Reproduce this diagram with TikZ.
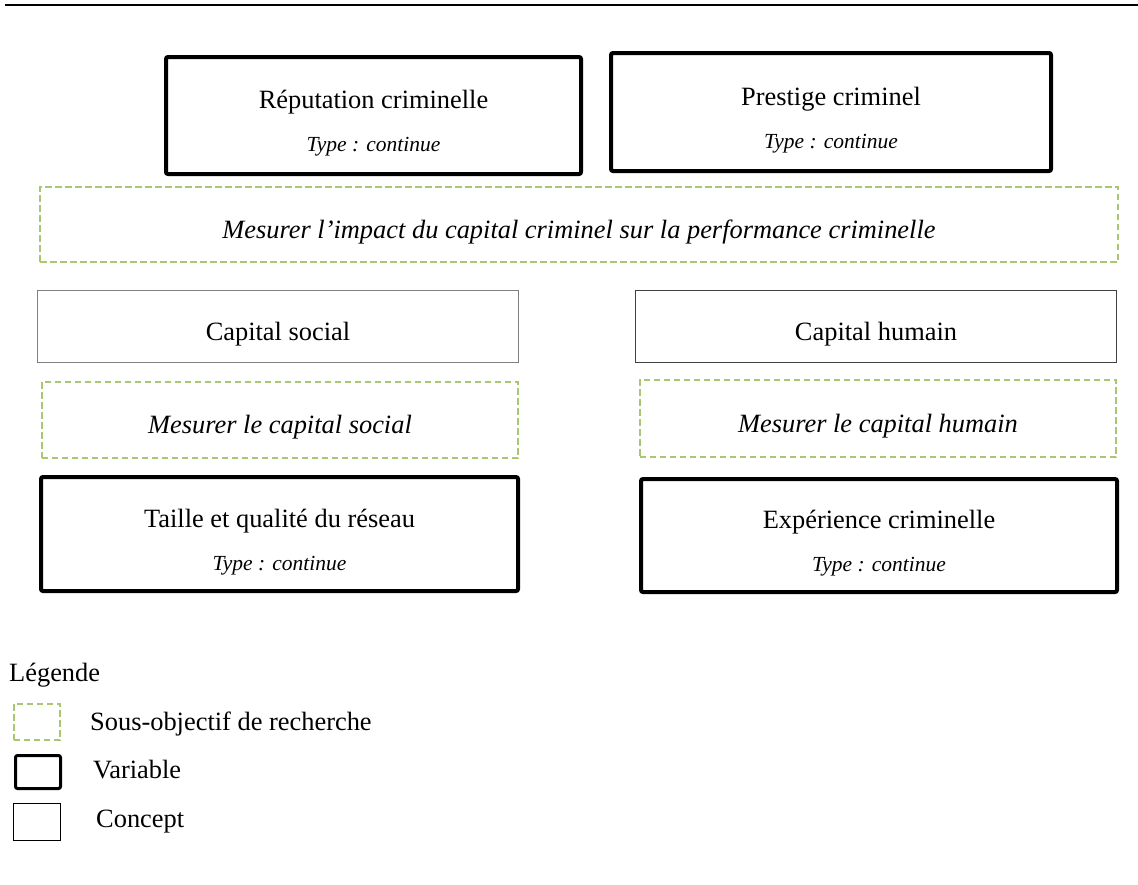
\documentclass[tikz,border=0pt]{standalone}
\usepackage{fontspec}
\setmainfont{Liberation Serif}
\usepackage{tikz}
\usetikzlibrary{positioning}
\definecolor{objgreen}{RGB}{170,198,116}
\definecolor{socgray}{RGB}{128,128,128}
\definecolor{humgray}{RGB}{64,64,64}
\newcommand{\boxfont}{\fontsize{26.4}{30}\selectfont}
\newcommand{\typefont}{\fontsize{21.5}{26}\selectfont\itshape}
\tikzstyle{varbox} = [rectangle, rounded corners=2pt, line width=4pt, draw=black, inner sep=0pt, outer sep=0pt, text height=0pt, text depth=14pt, font=\boxfont]
\tikzstyle{conceptbox} = [rectangle, line width=1.3pt, inner sep=0pt, outer sep=0pt, text height=27pt, text depth=0pt, font=\boxfont]
\tikzstyle{objbox} = [rectangle, draw=objgreen, line width=1.8pt, dash pattern=on 6.5pt off 3.5pt, inner sep=0pt, outer sep=0pt, text height=27pt, text depth=0pt, font=\boxfont\itshape]
\tikzstyle{typeline} = [anchor=base, inner sep=0pt, font=\typefont]
\tikzstyle{legendtext} = [anchor=base west, inner sep=0pt, font=\boxfont]

\begin{document}
\begin{tikzpicture}[x=1pt, y=-1pt]
	\useasboundingbox (0,0) rectangle (1138,884);
	\coordinate (ruleL) at (5,5);
	\coordinate (ruleR) at (1138,5);
	\draw [line width=2pt] (ruleL) -- (ruleR);

	% performance criminelle
	\node (rep) [varbox, minimum width=415pt, minimum height=117pt] at (373.5,115.5) {Réputation criminelle};
	\node (reptype) [typeline] at ([yshift=-43pt]rep.base) {Type : continue};
	\node (prest) [varbox, minimum width=440pt, minimum height=118pt] at (831,112) {Prestige criminel};
	\node (presttype) [typeline] at ([yshift=-43pt]prest.base) {Type : continue};
	\node (objmain) [objbox, minimum width=1078pt, minimum height=75.5pt] at (579,224.5) {Mesurer l’impact du capital criminel sur la performance criminelle};

	% capital social
	\node (capsoc) [conceptbox, draw=socgray, minimum width=481pt, minimum height=72pt] at (278,326.5) {Capital social};
	\node (objsoc) [objbox, minimum width=476.5pt, minimum height=76.5pt] at (280,420) {Mesurer le capital social};
	\node (varsoc) [varbox, minimum width=477pt, minimum height=114pt] at (279.5,534) {Taille et qualité du réseau};
	\node (varsoctype) [typeline] at ([yshift=-43pt]varsoc.base) {Type : continue};

	% capital humain
	\node (caphum) [conceptbox, draw=humgray, minimum width=481pt, minimum height=72pt] at (876,326.5) {Capital humain};
	\node (objhum) [objbox, minimum width=476.5pt, minimum height=77.5pt] at (878,418.5) {Mesurer le capital humain};
	\node (varhum) [varbox, minimum width=476pt, minimum height=113pt] at (879,535.5) {Expérience criminelle};
	\node (varhumtype) [typeline] at ([yshift=-43pt]varhum.base) {Type : continue};

	% legende
	\node (legtitle) [legendtext] at (9,681) {Légende};
	\node (legobj) [objbox, minimum width=46.5pt, minimum height=36.5pt] at (37,722) {};
	\node (legobjtxt) [legendtext] at (90,730) {Sous-objectif de recherche};
	\node (legvar) [varbox, line width=3pt, minimum width=45pt, minimum height=33pt] at (38,772) {};
	\node (legvartxt) [legendtext] at (93,778) {Variable};
	\node (legcon) [conceptbox, draw=black, line width=1pt, minimum width=47pt, minimum height=37pt] at (37,822) {};
	\node (legcontxt) [legendtext] at (96,827) {Concept};
\end{tikzpicture}
\end{document}
